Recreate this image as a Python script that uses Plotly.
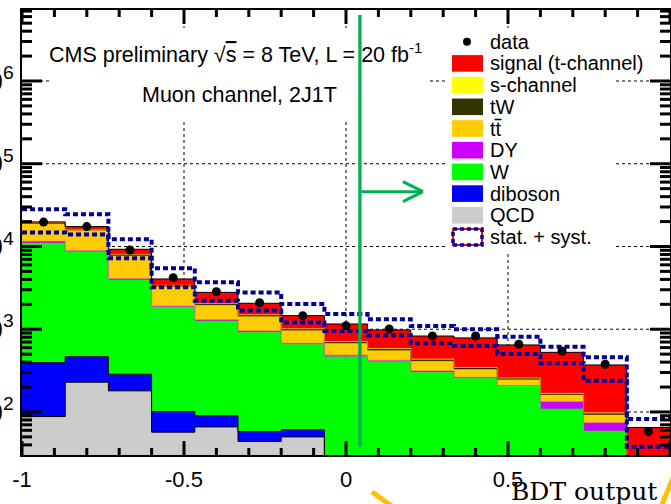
import numpy as np
import plotly.graph_objects as go

# ---------------------------------------------------------------
# BDT output, muon channel, 2 jets / 1 b-tag: 15 bins on [-1, 1]
# ---------------------------------------------------------------
bin_edges = np.linspace(-1.0, 1.0, 16)
bin_centers = 0.5 * (bin_edges[:-1] + bin_edges[1:])

# expected events per bin, per process (stacked bottom -> top)
qcd       = [88, 229, 180, 57, 66, 44, 50, 8, 6, 5, 4, 3, 2, 1, 1]
diboson   = [307, 237, 106, 44, 24, 14, 11, 14, 12, 10, 8, 7, 4, 3, 1]
w_jets    = [10535, 8184, 3654, 1739, 1170, 861, 597, 444, 387, 287, 243, 196, 103, 55, 12]
drell_yan = [600, 250, 140, 60, 40, 31, 17, 19, 15, 10, 7, 3, 24, 15, 4]
ttbar     = [7200, 6700, 3620, 1350, 650, 470, 285, 185, 130, 98, 63, 36, 27, 18, 3]
tw        = [500, 400, 250, 100, 70, 50, 30, 25, 20, 15, 10, 7, 4, 3, 1]
s_channel = [100, 100, 100, 50, 40, 30, 20, 15, 15, 12, 10, 6, 4, 3, 1]
t_channel = [500, 1300, 1200, 650, 730, 560, 450, 447, 395, 391, 441, 388, 358, 272, 42]

# observed events
data = [19700, 17400, 9080, 4200, 2840, 2090, 1460, 1100, 1008, 828, 828, 658, 546, 377, 58]

# stat. + syst. envelope of the prediction
band_up   = [28200, 24500, 12200, 5460, 3690, 2770, 2020, 1530, 1318, 1094, 1000, 813, 615, 458, 82]
band_down = [14800, 14000, 7200, 3210, 2210, 1680, 1210, 953, 845, 676, 628, 502, 387, 239, 38]

# axis ticks and labels
y_decades = [1e2, 1e3, 1e4, 1e5, 1e6]
x_major = [-1, -0.5, 0, 0.5, 1]
x_major_labels = ["-1", "-0.5", "0", "0.5", "1"]
X_RANGE = [-1.0, 1.0]
Y_RANGE_LOG = [1.48, 6.858]

BDT_CUT = 0.043   # selection marked on the plot

processes = [
    # name,                 values,    fill,      outline,   outline width
    ("QCD",                 qcd,       "#cccccc", "black",   1.0),
    ("diboson",             diboson,   "#0000ff", "black",   1.0),
    ("W",                   w_jets,    "#00ff00", "#00ff00", 0.5),
    ("DY",                  drell_yan, "#cc00ff", "#cc00ff", 0.5),
    ("ttbar",               ttbar,     "#ffcc00", "#ffcc00", 0.5),
    ("tW",                  tw,        "#333300", "#222200", 1.0),
    ("s-channel",           s_channel, "#ffff00", "#ffff00", 0.5),
    ("signal (t-channel)",  t_channel, "#ff0000", "black",   1.0),
]
legend_text = {"ttbar": "tt"}

FONT = "Liberation Sans, Arial, Helvetica, sans-serif"
W, H = 671, 504
ML, MR, MT, MB = 22, 1, 10, 49
PW, PH = W - ML - MR, H - MT - MB
X_PER_PX = (X_RANGE[1] - X_RANGE[0]) / PW           # x units per pixel
DEC_PER_PX = (Y_RANGE_LOG[1] - Y_RANGE_LOG[0]) / PH  # decades per pixel
TICK_COLOR, TICK_WIDTH = "black", 3


def px(x):
    return (x - ML) / PW


def py(y):
    return (H - MB - y) / PH


def step(vals):
    v = list(vals)
    return v + [v[-1]]


shapes = []
annotations = []

# dotted grid at the major ticks (drawn first, beneath everything)
for xv in x_major[1:-1]:
    shapes.append(dict(type="line", layer="below", xref="x", yref="paper",
                       x0=xv, x1=xv, y0=0, y1=1,
                       line=dict(color="black", width=1, dash="dot")))
for yv in y_decades:
    shapes.append(dict(type="line", layer="below", xref="paper", yref="y",
                       x0=0, x1=1, y0=yv, y1=yv,
                       line=dict(color="black", width=1, dash="dot")))

# white boxes behind the header text and the legend (cover the grid)
shapes.append(dict(type="rect", layer="below", xref="paper", yref="paper",
                   x0=px(52), x1=px(427), y0=py(122), y1=py(28),
                   fillcolor="white", line=dict(width=0)))
shapes.append(dict(type="rect", layer="below", xref="paper", yref="paper",
                   x0=px(445), x1=px(615), y0=py(252), y1=py(28),
                   fillcolor="white", line=dict(width=0)))

fig = go.Figure()

# baseline for the stack (below the visible range)
fig.add_trace(go.Scatter(x=bin_edges, y=step([1] * 15), mode="lines",
                         line=dict(width=0, shape="hv"), hoverinfo="skip",
                         showlegend=False))
cum = np.zeros(15)
for name, vals, fill, lc, lw in processes:
    cum = cum + np.array(vals, dtype=float)
    fig.add_trace(go.Scatter(x=bin_edges, y=step(cum), mode="lines", name=name,
                             line=dict(shape="hv", color=lc, width=lw),
                             fill="tonexty", fillcolor=fill, showlegend=False))

# uncertainty envelope
for band in (band_up, band_down):
    fig.add_trace(go.Scatter(x=bin_edges, y=step(band), mode="lines",
                             line=dict(shape="hv", color="#000099", width=4,
                                       dash="5px,3px"),
                             showlegend=False, hoverinfo="skip"))

fig.add_trace(go.Scatter(x=bin_centers, y=data, mode="markers", name="data",
                         marker=dict(color="black", size=9), showlegend=False))

# ROOT-style inward ticks on all four sides of the frame, one trace per side
y_lo, y_hi = 10 ** Y_RANGE_LOG[0], 10 ** Y_RANGE_LOG[1]
sides = {"bottom": ([], []), "top": ([], []), "left": ([], []), "right": ([], [])}
for k in range(-10, 11):
    xv = k / 10
    ln = 14 if k % 5 == 0 else 7
    sides["bottom"][0].extend([xv, xv, None])
    sides["bottom"][1].extend([y_lo, y_lo * 10 ** (ln * DEC_PER_PX), None])
    sides["top"][0].extend([xv, xv, None])
    sides["top"][1].extend([y_hi, y_hi / 10 ** (ln * DEC_PER_PX), None])
for e in range(1, 7):
    for m in range(1, 10):
        yv = m * 10 ** e
        if not (Y_RANGE_LOG[0] <= np.log10(yv) <= Y_RANGE_LOG[1]):
            continue
        ln = 20 if m == 1 else 10
        sides["left"][0].extend([X_RANGE[0], X_RANGE[0] + ln * X_PER_PX, None])
        sides["left"][1].extend([yv, yv, None])
        sides["right"][0].extend([X_RANGE[1], X_RANGE[1] - ln * X_PER_PX, None])
        sides["right"][1].extend([yv, yv, None])
for side, (sx, sy) in sides.items():
    fig.add_trace(go.Scatter(x=sx, y=sy, mode="lines", name=f"ticks {side}",
                             line=dict(color=TICK_COLOR, width=TICK_WIDTH),
                             showlegend=False, hoverinfo="skip"))

annotations.append(dict(
    text="CMS preliminary &#8730;<span style='text-decoration:overline'>s</span> = 8 TeV, L = 20 fb<sup>-1</sup>",
    xref="paper", yref="paper", x=px(47), y=py(53), xanchor="left", yanchor="middle",
    showarrow=False, font=dict(family=FONT, size=21.5, color="black")))
annotations.append(dict(
    text="Muon channel, 2J1T",
    xref="paper", yref="paper", x=px(140), y=py(95), xanchor="left", yanchor="middle",
    showarrow=False, font=dict(family=FONT, size=21.5, color="black")))

# legend
row0, drow = 41.7, 21.7
box_x0, box_x1, text_x = 452, 483, 488
legend_rows = [("data", None)] + [(p[0], p[2]) for p in reversed(processes)] + \
              [("stat. + syst.", "band")]
for i, (label, color) in enumerate(legend_rows):
    yc = row0 + i * drow
    if color is None:
        shapes.append(dict(type="circle", xref="paper", yref="paper",
                           x0=px(463), x1=px(471), y0=py(yc + 4), y1=py(yc - 4),
                           fillcolor="black", line=dict(width=0)))
    elif color == "band":
        shapes.append(dict(type="rect", xref="paper", yref="paper",
                           x0=px(box_x0 + 1), x1=px(box_x1 - 1),
                           y0=py(yc + 8), y1=py(yc - 8),
                           line=dict(color="#ff0000", width=2)))
        shapes.append(dict(type="rect", xref="paper", yref="paper",
                           x0=px(box_x0 + 1), x1=px(box_x1 - 1),
                           y0=py(yc + 8), y1=py(yc - 8),
                           line=dict(color="#000099", width=3.5, dash="4px,3px")))
    else:
        shapes.append(dict(type="rect", xref="paper", yref="paper",
                           x0=px(box_x0), x1=px(box_x1),
                           y0=py(yc + 8.3), y1=py(yc - 8.3),
                           fillcolor=color, line=dict(width=0)))
    annotations.append(dict(text=legend_text.get(label, label),
                            xref="paper", yref="paper",
                            x=px(text_x), y=py(yc), xanchor="left", yanchor="middle",
                            showarrow=False,
                            font=dict(family=FONT, size=20, color="black")))

# bar over the second t of the ttbar legend label
tt_row = row0 + 4 * drow
shapes.append(dict(type="line", xref="paper", yref="paper",
                   x0=px(text_x + 6.5), x1=px(text_x + 13.5),
                   y0=py(tt_row - 9.0), y1=py(tt_row - 9.0),
                   line=dict(color="black", width=1.5)))

# selection line with arrow
GREEN = "#00b050"
shapes.append(dict(type="line", xref="x", yref="paper", x0=BDT_CUT, x1=BDT_CUT,
                   y0=py(447), y1=py(15), line=dict(color=GREEN, width=3.3)))
arrow_len = 63 * X_PER_PX
head = 20 * X_PER_PX
shapes.append(dict(type="line", xref="x", yref="paper", x0=BDT_CUT,
                   x1=BDT_CUT + arrow_len, y0=py(191.7), y1=py(191.7),
                   line=dict(color=GREEN, width=3)))
for dy in (-10, 10):
    shapes.append(dict(type="line", xref="x", yref="paper",
                       x0=BDT_CUT + arrow_len, x1=BDT_CUT + arrow_len - head,
                       y0=py(191.7), y1=py(191.7 + dy),
                       line=dict(color=GREEN, width=3)))

# orange strokes near the axis title
ORANGE = "#ffc000"
shapes.append(dict(type="line", xref="paper", yref="paper",
                   x0=px(372), y0=py(492), x1=px(393), y1=py(507),
                   line=dict(color=ORANGE, width=5)))
shapes.append(dict(type="line", xref="paper", yref="paper",
                   x0=px(673), y0=py(478), x1=px(661), y1=py(507),
                   line=dict(color=ORANGE, width=5)))

annotations.append(dict(text="BDT output", xref="paper", yref="paper",
                        x=px(509), y=py(491), xanchor="left", yanchor="middle",
                        showarrow=False,
                        font=dict(family="DejaVu Serif, serif", size=25, color="black")))

fig.update_layout(
    width=W, height=H,
    margin=dict(l=ML, r=MR, t=MT, b=MB, pad=0, autoexpand=False),
    paper_bgcolor="white", plot_bgcolor="white",
    showlegend=False,
    shapes=shapes, annotations=annotations,
    font=dict(family=FONT, color="black"),
    xaxis=dict(
        range=X_RANGE, tickmode="array", tickvals=x_major, ticktext=x_major_labels,
        ticks="outside", ticklen=4, tickcolor="rgba(0,0,0,0)",
        showline=True, linewidth=2, linecolor="black", mirror=True,
        showgrid=False, zeroline=False,
        tickfont=dict(family=FONT, size=22, color="black"), automargin=False,
    ),
    yaxis=dict(
        type="log", range=Y_RANGE_LOG,
        tickmode="linear", tick0=0, dtick=1, exponentformat="power",
        showexponent="all",
        ticks="outside", ticklen=2, tickcolor="rgba(0,0,0,0)",
        showline=True, linewidth=2, linecolor="black", mirror=True,
        showgrid=False, zeroline=False,
        tickfont=dict(family=FONT, size=22, color="black"), automargin=False,
    ),
)

fig.write_html("out.html")
